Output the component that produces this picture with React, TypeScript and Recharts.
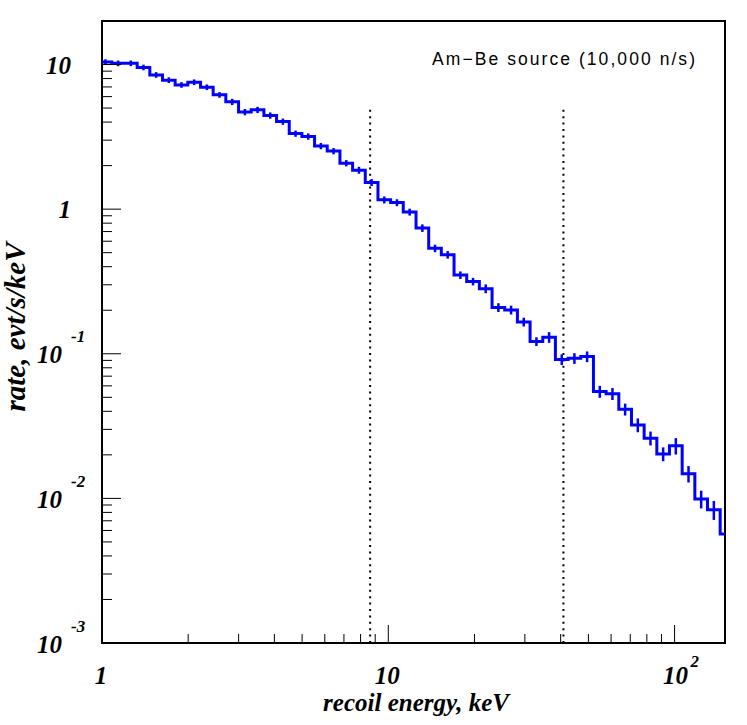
import React from 'react';
import {
  ComposedChart,
  Line,
  Scatter,
  XAxis,
  YAxis,
  ErrorBar,
  ReferenceLine,
  ReferenceArea,
} from 'recharts';

// Histogram bin edges (keV), 50 log-spaced bins
const binEdges = [
  0.977, 1.082, 1.198, 1.327, 1.469, 1.627, 1.801, 1.994, 2.209, 2.445,
  2.707, 2.999, 3.32, 3.677, 4.071, 4.508, 4.991, 5.527, 6.12, 6.778,
  7.505, 8.31, 9.203, 10.19, 11.28, 12.5, 13.84, 15.32, 16.97, 18.79,
  20.8, 23.04, 25.51, 28.25, 31.28, 34.64, 38.35, 42.46, 47.02, 52.07,
  57.66, 63.85, 70.7, 78.29, 86.7, 95.96, 106.3, 117.7, 130.3, 144.3, 159.8,
];

// Rate per bin (evt/s/keV)
const rates = [
  10.4, 10.2, 10.2, 9.55, 8.48, 7.8, 7.23, 7.55, 6.97, 6.17,
  5.52, 4.69, 4.86, 4.44, 4.03, 3.33, 3.18, 2.73, 2.52, 2.08,
  1.86, 1.53, 1.16, 1.11, 0.955, 0.74, 0.536, 0.484, 0.35, 0.316,
  0.282, 0.209, 0.201, 0.166, 0.1216, 0.13, 0.0913, 0.093, 0.0956, 0.0548,
  0.0529, 0.0413, 0.0322, 0.0261, 0.0203, 0.0231, 0.0148, 0.00991, 0.00835, 0.00567,
];

// Relative statistical error per bin
const relErrors = [
  0.045, 0.045, 0.045, 0.045, 0.045, 0.045, 0.045, 0.045, 0.045, 0.045,
  0.05, 0.05, 0.05, 0.05, 0.05, 0.05, 0.05, 0.05, 0.05, 0.05,
  0.055, 0.055, 0.055, 0.055, 0.055, 0.06, 0.06, 0.06, 0.06, 0.06,
  0.07, 0.07, 0.07, 0.07, 0.07, 0.085, 0.085, 0.085, 0.085, 0.095,
  0.095, 0.095, 0.11, 0.11, 0.11, 0.13, 0.13, 0.14, 0.15, 0.15,
];

// Vertical dotted markers (keV) and their top (rate)
const markerEnergies = [8.64, 40.9];
const markerTop = 5;

const xDomain = [1, 150];
const yDomain = [0.001, 20];

const xTicks = [1, 2, 3, 4, 5, 6, 7, 8, 9, 10, 20, 30, 40, 50, 60, 70, 80, 90, 100];
const xMajorLabels = [
  { value: 1, base: '1', exp: '' },
  { value: 10, base: '10', exp: '' },
  { value: 100, base: '10', exp: '2' },
];
const yTicks = [
  0.001, 0.002, 0.003, 0.004, 0.005, 0.006, 0.007, 0.008, 0.009,
  0.01, 0.02, 0.03, 0.04, 0.05, 0.06, 0.07, 0.08, 0.09,
  0.1, 0.2, 0.3, 0.4, 0.5, 0.6, 0.7, 0.8, 0.9,
  1, 2, 3, 4, 5, 6, 7, 8, 9, 10,
];
const yMajorLabels = [
  { value: 0.001, base: '10', exp: '-3' },
  { value: 0.01, base: '10', exp: '-2' },
  { value: 0.1, base: '10', exp: '-1' },
  { value: 1, base: '1', exp: '' },
  { value: 10, base: '10', exp: '' },
];

const xTitle = 'recoil energy, keV';
const yTitle = 'rate, evt/s/keV';
const annotation = 'Am\u2212Be source (10,000 n/s)';

const stepData = binEdges.map((x, i) => ({ x, v: rates[Math.min(i, rates.length - 1)] }));
const centerData = rates
  .map((v, i) => ({
    x: Math.sqrt(binEdges[i] * binEdges[i + 1]),
    v,
    err: v * relErrors[i],
  }))
  .filter((d) => d.x >= xDomain[0] && d.x <= xDomain[1]);

const serif = '"Liberation Serif", "Times New Roman", serif';
const labelStyle: React.CSSProperties = {
  fontFamily: serif,
  fontWeight: 700,
  fontStyle: 'italic',
  fontSize: 25,
  fill: '#000',
};
const supStyle: React.CSSProperties = { ...labelStyle, fontSize: 17 };
const BLUE = '#0000ff';

const XTick = (props: any) => {
  const { x, y, payload } = props;
  const lab = xMajorLabels.find((l) => Math.abs(l.value - payload.value) < 1e-9);
  const len = lab ? 18 : 9;
  return (
    <g>
      <line x1={x} x2={x} y1={y} y2={y - len} stroke="#000" strokeWidth={1} />
      {lab && !lab.exp && (
        <text x={x - 1} y={y + 41} textAnchor="middle" style={labelStyle}>
          {lab.base}
        </text>
      )}
      {lab && lab.exp && (
        <g>
          <text x={x + 1} y={y + 41} textAnchor="middle" style={labelStyle}>
            {lab.base}
          </text>
          <text x={x + 16} y={y + 24} textAnchor="start" style={supStyle}>
            {lab.exp}
          </text>
        </g>
      )}
    </g>
  );
};

const YTick = (props: any) => {
  const { x, y, payload } = props;
  const lab = yMajorLabels.find((l) => Math.abs(l.value - payload.value) < 1e-12);
  const len = lab ? 19 : 10;
  return (
    <g>
      <line x1={x} x2={x + len} y1={y} y2={y} stroke="#000" strokeWidth={1} />
      {lab && !lab.exp && (
        <text x={x - 31} y={y + 9} textAnchor="end" style={labelStyle}>
          {lab.base}
        </text>
      )}
      {lab && lab.exp && (
        <g>
          <text x={x - 40} y={y + 9.5} textAnchor="end" style={labelStyle}>
            {lab.base}
          </text>
          <text x={x - 31} y={y - 11.5} textAnchor="start" style={supStyle}>
            {lab.exp}
          </text>
        </g>
      )}
    </g>
  );
};

const XTitle = () => (
  <text x={416} y={711} textAnchor="middle" style={{ ...labelStyle, fontSize: 25 }}>
    {xTitle}
  </text>
);

const YTitle = () => (
  <text
    x={25}
    y={327}
    textAnchor="middle"
    transform="rotate(-90, 25, 327)"
    style={{ ...labelStyle, fontSize: 29 }}
  >
    {yTitle}
  </text>
);

const Annotation = () => (
  <text
    x={695}
    y={65}
    textAnchor="end"
    textLength={263}
    lengthAdjust="spacing"
    style={{ fontFamily: '"Liberation Sans", Arial, sans-serif', fontSize: 17.5, fill: '#000' }}
  >
    {annotation}
  </text>
);

export default function App() {
  return (
    <div style={{ position: 'absolute', left: 0, top: 0, width: 747, height: 725 }}>
      <ComposedChart
        width={747}
        height={725}
        margin={{ top: 21, right: 22, bottom: 0, left: 0 }}
      >
        <XAxis
          dataKey="x"
          type="number"
          scale="log"
          domain={xDomain}
          allowDataOverflow
          ticks={xTicks}
          interval={0}
          tickSize={0}
          tickMargin={0}
          tickLine={false}
          axisLine={false}
          height={82}
          tick={(p: any) => <XTick {...p} />}
          label={() => <XTitle />}
        />
        <YAxis
          dataKey="v"
          type="number"
          scale="log"
          domain={yDomain}
          allowDataOverflow
          ticks={yTicks}
          interval={0}
          tickSize={0}
          tickMargin={0}
          tickLine={false}
          axisLine={false}
          width={102}
          tick={(p: any) => <YTick {...p} />}
          label={() => <YTitle />}
        />
        <ReferenceArea
          x1={xDomain[0]}
          x2={xDomain[1]}
          y1={yDomain[0]}
          y2={yDomain[1]}
          fill="none"
          fillOpacity={0}
          stroke="#000"
          strokeWidth={2}
          ifOverflow="visible"
          label={() => <Annotation />}
        />
        {markerEnergies.map((e) => (
          <ReferenceLine
            key={e}
            segment={[
              { x: e, y: yDomain[0] },
              { x: e, y: markerTop },
            ]}
            stroke="#000"
            strokeWidth={2}
            strokeDasharray="2 4.4"
            ifOverflow="visible"
          />
        ))}
        <Line
          data={stepData}
          dataKey="v"
          type="stepAfter"
          stroke={BLUE}
          strokeWidth={3}
          dot={false}
          activeDot={false}
          isAnimationActive={false}
        />
        <Scatter
          data={centerData}
          dataKey="v"
          fill={BLUE}
          shape={() => <g />}
          isAnimationActive={false}
        >
          <ErrorBar
            dataKey="err"
            direction="y"
            width={0}
            stroke={BLUE}
            strokeWidth={2.5}
            isAnimationActive={false}
          />
        </Scatter>
      </ComposedChart>
    </div>
  );
}
